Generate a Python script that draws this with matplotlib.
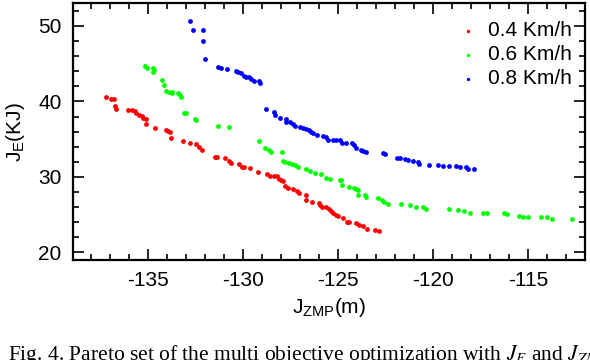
import matplotlib
matplotlib.use("Agg")
import matplotlib.pyplot as plt
from matplotlib.ticker import MultipleLocator

""" Pareto set values read off the figure """
speed_labels = ["0.4 Km/h", "0.6 Km/h", "0.8 Km/h"]

zmp_04 = [-137.21, -136.97, -136.84, -136.77, -136.69, -136.10, -135.86, -135.73,
          -135.67, -135.49, -135.35, -135.27, -135.15, -135.14, -134.65, -134.09,
          -133.99, -133.88, -133.79, -133.16, -132.83, -132.50, -132.35, -132.19,
          -131.49, -131.40, -130.95, -130.77, -130.67, -130.24, -130.07, -129.96,
          -129.63, -129.21, -128.77, -128.57, -128.36, -128.23, -128.12, -128.00,
          -127.91, -127.80, -127.66, -127.39, -127.16, -127.09, -126.72, -126.68,
          -126.37, -126.03, -125.94, -125.84, -125.63, -125.48, -125.37, -125.25,
          -125.10, -125.00, -124.75, -124.54, -124.41, -124.09, -123.91, -123.67,
          -123.49, -123.05, -122.83]
je_04 = [40.63, 40.32, 40.32, 39.42, 39.06, 38.86, 38.86, 38.69,
         38.47, 38.16, 38.13, 37.87, 37.72, 36.97, 36.51, 36.24,
         36.08, 35.89, 35.12, 34.70, 34.46, 34.37, 34.02, 33.53,
         32.67, 32.58, 32.57, 32.10, 31.81, 31.68, 31.32, 31.26,
         31.18, 30.62, 30.40, 30.19, 30.19, 30.09, 29.74, 29.60,
         29.47, 28.77, 28.54, 28.37, 28.11, 27.88, 27.58, 26.92,
         26.69, 26.56, 26.22, 26.03, 25.99, 25.73, 25.46, 25.24,
         24.93, 24.84, 24.58, 24.05, 24.01, 23.84, 23.61, 23.44,
         23.12, 22.95, 22.78]

zmp_06 = [-135.19, -135.06, -134.77, -134.72, -134.74, -134.30, -134.19, -134.05,
          -133.94, -133.78, -133.74, -133.43, -133.33, -133.27, -133.15, -133.02,
          -132.57, -132.49, -131.34, -130.75, -129.20, -128.88, -128.65, -128.54,
          -127.95, -127.93, -127.80, -127.62, -127.42, -127.28, -127.12, -126.68,
          -126.47, -126.25, -125.93, -125.65, -125.42, -124.93, -124.83, -124.80,
          -124.42, -124.18, -124.06, -123.98, -123.97, -123.58, -123.55, -122.88,
          -122.72, -122.59, -122.36, -121.68, -121.21, -120.90, -120.54, -120.38,
          -119.15, -118.70, -118.36, -118.04, -117.35, -117.15, -116.28, -116.12,
          -115.47, -115.27, -115.00, -114.30, -113.98, -113.72, -112.70]
je_06 = [44.68, 44.47, 44.42, 44.11, 43.89, 42.79, 42.13, 41.43,
         41.30, 41.20, 41.07, 41.07, 40.90, 40.65, 38.53, 38.53,
         37.70, 37.57, 36.75, 36.61, 34.72, 33.84, 33.53, 33.36,
         33.27, 32.12, 31.97, 31.85, 31.65, 31.52, 31.28, 31.06,
         30.73, 30.46, 30.40, 29.80, 29.72, 29.60, 29.60, 28.99,
         28.64, 28.60, 28.40, 28.24, 27.67, 27.65, 27.28, 27.25,
         26.96, 26.72, 26.43, 26.43, 26.23, 25.99, 25.99, 25.75,
         25.75, 25.60, 25.46, 25.29, 25.20, 25.20, 25.16, 25.07,
         24.89, 24.71, 24.71, 24.71, 24.63, 24.44, 24.37]

zmp_08 = [-132.81, -132.67, -132.15, -132.15, -132.02, -131.32, -131.18, -130.88,
          -130.37, -130.27, -130.14, -129.98, -129.84, -129.72, -129.57, -129.43,
          -129.18, -129.13, -128.81, -128.40, -128.32, -128.09, -127.77, -127.75,
          -127.53, -127.40, -127.29, -127.02, -126.84, -126.68, -126.52, -126.45,
          -126.33, -126.12, -125.78, -125.66, -125.54, -125.29, -125.10, -124.89,
          -124.82, -124.58, -124.26, -124.16, -124.05, -123.79, -123.70, -123.56,
          -122.65, -122.54, -121.91, -121.74, -121.50, -121.30, -121.07, -120.79,
          -120.75, -120.24, -119.75, -119.46, -119.17, -118.79, -118.58, -118.25,
          -118.16, -117.86]
je_08 = [50.69, 49.40, 49.40, 47.99, 45.57, 44.51, 44.42, 44.25,
         44.07, 43.89, 43.72, 43.36, 43.28, 43.19, 42.92, 42.70,
         42.66, 42.49, 38.96, 38.56, 38.16, 37.86, 37.63, 37.34,
         37.28, 37.04, 36.81, 36.57, 36.44, 36.34, 36.18, 36.01,
         35.87, 35.56, 35.42, 35.25, 34.95, 34.89, 34.83, 34.85,
         34.50, 34.46, 34.46, 34.23, 33.89, 33.62, 33.40, 33.27,
         33.20, 33.00, 32.50, 32.45, 32.34, 32.21, 32.05, 31.94,
         31.71, 31.55, 31.55, 31.44, 31.39, 31.42, 31.38, 31.28,
         31.06, 31.06]

""" Plot """
plt.rcParams["font.family"] = ["Liberation Sans", "DejaVu Sans"]
plt.rcParams["mathtext.fontset"] = "stix"
plt.rcParams["axes.unicode_minus"] = False

fig = plt.figure(figsize=(5.9, 3.6), dpi=100)
ax = fig.add_axes([0.1229, 0.2778, 0.8686, 0.713])

series = [(zmp_04, je_04, "#ff0000"), (zmp_06, je_06, "#00ff00"), (zmp_08, je_08, "#0000ff")]
for (xs, ys, col), lab in zip(series, speed_labels):
    ax.scatter(xs, ys, s=12, color=col, linewidths=0, label=lab)

ax.set_xlim(-139, -112)
ax.set_ylim(19, 53)
ax.xaxis.set_major_locator(MultipleLocator(5))
ax.xaxis.set_minor_locator(MultipleLocator(1))
ax.yaxis.set_major_locator(MultipleLocator(10))
ax.yaxis.set_minor_locator(MultipleLocator(2))
ax.tick_params(which="both", direction="in", top=True, right=True, width=1.2, labelsize=15)
ax.tick_params(which="major", length=8, pad=8)
ax.tick_params(which="minor", length=4)
for sp in ax.spines.values():
    sp.set_linewidth(1.6)

ax.set_xlabel(r"$\mathregular{J_{ZMP}(m)}$", fontsize=15, labelpad=4)
ax.set_ylabel(r"$\mathregular{J_E(KJ)}$", fontsize=15, labelpad=8)

ax.legend(loc="upper right", bbox_to_anchor=(1.0098, 1.0), frameon=False, fontsize=15,
          scatterpoints=1, markerscale=0.7, handletextpad=0.4, handlelength=1.2,
          labelspacing=0.25, borderaxespad=0.45)

""" Caption, cut off at the bottom edge like the source """
fig.text(8 / 590, 1 - 343 / 360,
         r"Fig. 4. Pareto set of the multi objective optimization with $J_E$ and $J_{ZMP}$",
         fontsize=15.5, family=["Liberation Serif", "DejaVu Serif"], va="top", ha="left")

plt.savefig("out.png", dpi=100)
